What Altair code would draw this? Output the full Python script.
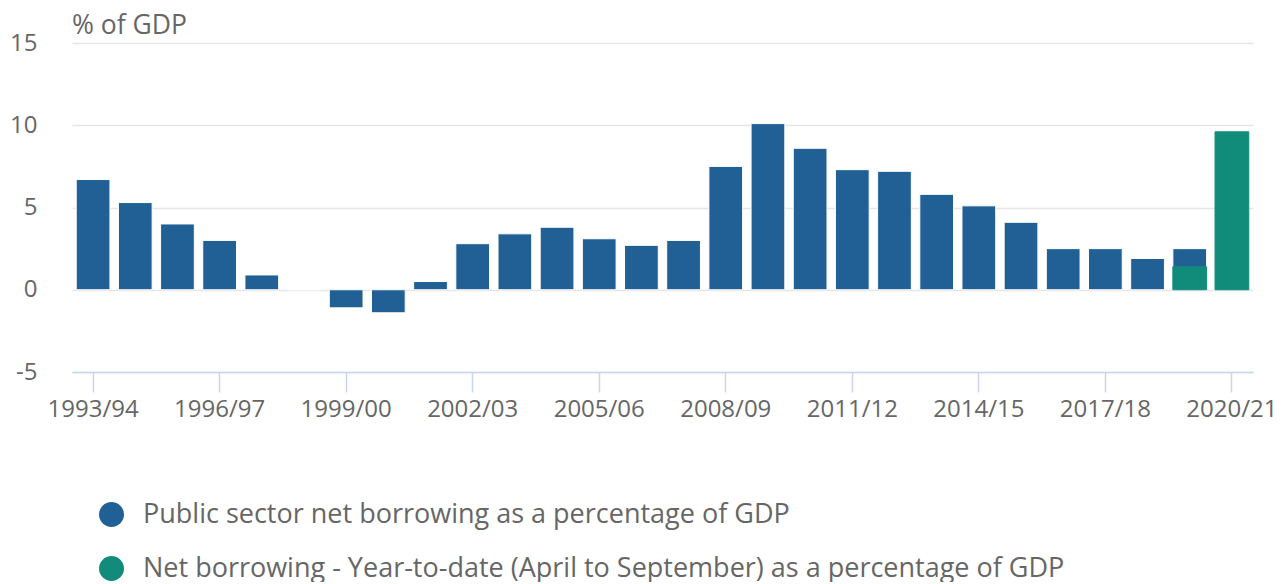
import altair as alt
import pandas as pd

years = ["1993/94", "1994/95", "1995/96", "1996/97", "1997/98", "1998/99", "1999/00",
         "2000/01", "2001/02", "2002/03", "2003/04", "2004/05", "2005/06", "2006/07",
         "2007/08", "2008/09", "2009/10", "2010/11", "2011/12", "2012/13", "2013/14",
         "2014/15", "2015/16", "2016/17", "2017/18", "2018/19", "2019/20", "2020/21"]

psnb = [6.7, 5.3, 4.0, 3.0, 0.9, 0.0, -1.1, -1.4, 0.5, 2.8, 3.4, 3.8, 3.1, 2.7,
        3.0, 7.5, 10.1, 8.6, 7.3, 7.2, 5.8, 5.1, 4.1, 2.5, 2.5, 1.9, 2.5, None]

ytd_years = ["2019/20", "2020/21"]
ytd = [1.4, 9.6]

tick_labels = ["1993/94", "1996/97", "1999/00", "2002/03", "2005/06", "2008/09",
               "2011/12", "2014/15", "2017/18", "2020/21"]

s1 = "Public sector net borrowing as a percentage of GDP"
s2 = "Net borrowing - Year-to-date (April to September) as a percentage of GDP"

rows = []
for y, v in zip(years, psnb):
    if v is not None:
        rows.append({"year": y, "value": v, "series": s1, "z": 0})
for y, v in zip(ytd_years, ytd):
    rows.append({"year": y, "value": v, "series": s2, "z": 1})
df = pd.DataFrame(rows)

FONT = "Open Sans"
GREY = "#666666"

chart = alt.Chart(df).mark_bar(strokeWidth=1).encode(
    x=alt.X("year:N", sort=years,
            scale=alt.Scale(domain=years, paddingInner=0.2, paddingOuter=0.1),
            axis=alt.Axis(values=tick_labels, labelAngle=0, title=None,
                          tickSize=20, tickColor="#ccd6eb", tickWidth=1.5,
                          domainColor="#ccd6eb", domainWidth=1.5,
                          labelFontSize=24, labelColor=GREY, labelFont=FONT,
                          labelPadding=5, grid=False)),
    y=alt.Y("value:Q", stack=None,
            scale=alt.Scale(domain=[-5, 15], nice=False, zero=False),
            axis=alt.Axis(values=[-5, 0, 5, 10, 15], title=None, domain=False, ticks=False,
                          grid=True, gridColor="#e6e6e6", gridWidth=1.5,
                          labelExpr="'' + datum.value",
                          labelFontSize=24, labelColor=GREY, labelFont=FONT,
                          labelPadding=35, minExtent=64, maxExtent=64)),
    color=alt.Color("series:N",
                    scale=alt.Scale(domain=[s1, s2], range=["#206095", "#118c7b"]),
                    legend=alt.Legend(title=None, orient="none", legendX=26, legendY=458,
                                      direction="vertical", symbolType="circle",
                                      symbolSize=625, symbolStrokeWidth=0,
                                      labelFontSize=27, labelColor=GREY, labelFont=FONT,
                                      labelOffset=18, rowPadding=26, labelLimit=1200)),
    stroke=alt.Stroke("z:N", scale=alt.Scale(domain=[0, 1], range=["#ffffff", "#118c7b"]),
                      legend=None),
    order=alt.Order("z:Q", sort="ascending")
).properties(
    width=1181, height=329,
    title=alt.Title("% of GDP", anchor="start", frame="group", fontSize=26.5,
                    color=GREY, font=FONT, fontWeight="normal", offset=-8),
    padding={"left": 0, "top": 4, "right": 0, "bottom": 0}
).configure_view(stroke=None)

chart.save("out.html", embed_options={"renderer": "svg", "actions": False})
